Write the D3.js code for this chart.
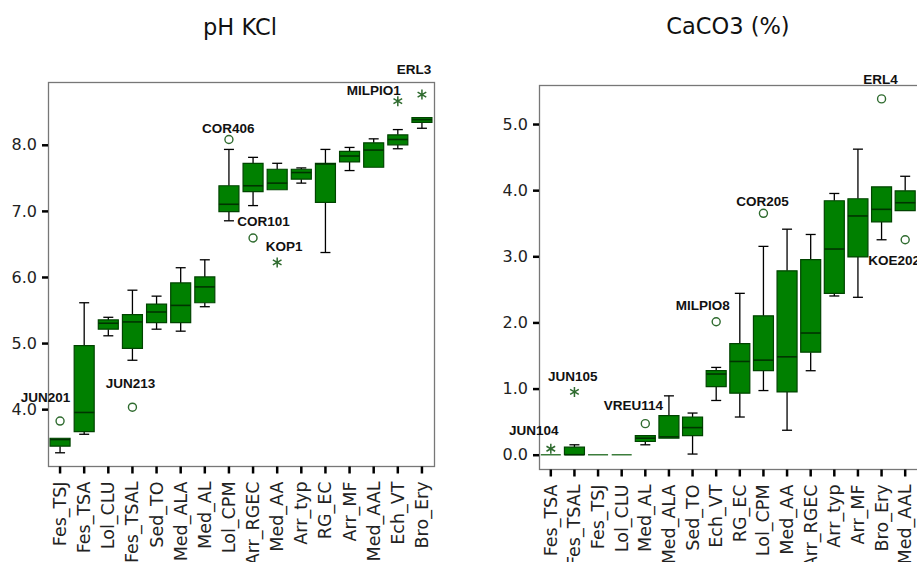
<!DOCTYPE html>
<html><head><meta charset="utf-8">
<script src="https://cdn.jsdelivr.net/npm/d3@7"></script>
<style>
html,body{margin:0;padding:0;background:#fff;overflow:hidden}
svg{display:block}
</style></head>
<body>
<svg id="chart" width="917" height="562"></svg>
<script>
// ---------- DATA ----------
// Chart 1: pH KCl
const phTitle = "pH KCl";
const phCategories = ["Fes_TSJ","Fes_TSA","Lol_CLU","Fes_TSAL","Sed_TO","Med_ALA","Med_AL","Lol_CPM","Arr_RGEC","Med_AA","Arr_typ","RG_EC","Arr_MF","Med_AAL","Ech_VT","Bro_Ery"];
const phLow    = [3.34,3.62,5.11,4.74,5.21,5.18,5.55,6.85,7.08,7.32,7.42,6.37,7.61,7.66,7.94,8.25];
const phQ1     = [3.44,3.66,5.21,4.92,5.31,5.31,5.61,6.99,7.29,7.32,7.48,7.13,7.74,7.66,8.00,8.34];
const phMedian = [3.54,3.95,5.30,5.32,5.47,5.57,5.85,7.10,7.38,7.42,7.58,7.71,7.83,7.92,8.08,8.38];
const phQ3     = [3.56,4.96,5.35,5.43,5.59,5.91,6.00,7.38,7.72,7.63,7.63,7.72,7.90,8.03,8.15,8.41];
const phHigh   = [3.56,5.61,5.39,5.80,5.71,6.14,6.26,7.93,7.81,7.72,7.65,7.93,7.96,8.09,8.23,8.41];
const phTicks  = [4.0,5.0,6.0,7.0,8.0];
const phOutlierLabels = ["JUN201","JUN213","COR406","COR101","KOP1","MILPIO1","ERL3"];
const phOutlierCats   = ["Fes_TSJ","Fes_TSAL","Lol_CPM","Arr_RGEC","Med_AA","Ech_VT","Bro_Ery"];
const phOutlierValues = [3.82,4.03,8.08,6.59,6.22,8.66,8.76];
const phOutlierKinds  = ["circle","circle","circle","circle","star","star","star"];

// Chart 2: CaCO3 (%)
const caTitle = "CaCO3 (%)";
const caCategories = ["Fes_TSA","Fes_TSAL","Fes_TSJ","Lol_CLU","Med_AL","Med_ALA","Sed_TO","Ech_VT","RG_EC","Lol_CPM","Med_AA","Arr_RGEC","Arr_typ","Arr_MF","Bro_Ery","Med_AAL"];
const caLow    = [0,0,0,0,0.15,0.25,0.01,0.82,0.57,0.97,0.37,1.27,2.40,2.38,3.25,3.69];
const caQ1     = [0,0,0,0,0.20,0.25,0.29,1.03,0.93,1.27,0.95,1.55,2.44,2.99,3.52,3.69];
const caMedian = [0,0,0,0,0.25,0.27,0.41,1.22,1.41,1.43,1.48,1.84,3.11,3.61,3.71,3.81];
const caQ3     = [0,0.115,0,0,0.29,0.59,0.57,1.27,1.68,2.10,2.78,2.95,3.84,3.87,4.05,3.99];
const caHigh   = [0,0.15,0,0,0.29,0.89,0.63,1.32,2.44,3.15,3.41,3.33,3.95,4.62,4.05,4.21];
const caTicks  = [0.0,1.0,2.0,3.0,4.0,5.0];
const caOutlierLabels = ["JUN104","JUN105","VREU114","MILPIO8","COR205","ERL4","KOE202"];
const caOutlierCats   = ["Fes_TSA","Fes_TSAL","Med_AL","Ech_VT","Lol_CPM","Bro_Ery","Med_AAL"];
const caOutlierValues = [0.09,0.95,0.47,2.01,3.65,5.38,3.25];
const caOutlierKinds  = ["star","star","circle","circle","circle","circle","circle"];

// ---------- LAYOUT (not data) ----------
const labelOffsets = {
  JUN201:[-14.5,-19], JUN213:[-2,-19.6], COR406:[-0.7,-6.7], COR101:[10.5,-12.3],
  KOP1:[7,-11.7], MILPIO1:[-24,-6], ERL3:[-8,-21],
  JUN104:[-17,-13.6], JUN105:[-1.7,-11.3], VREU114:[-12,-13.3], MILPIO8:[-13.5,-11.7],
  COR205:[-1,-7.3], ERL4:[-1,-14.4], KOE202:[-11,25]
};

const svg = d3.select("#chart");
const GREEN = "#008000", BOXSTROKE = "#004400", OUT = "#2f6b2f";

function drawChart(cfg) {
  const {title, titleX, cats, low, q1, med, q3, high, ticks, oLabels, oCats, oVals, oKinds,
         left, right, top, bottom, frameRight, domain} = cfg;
  const g = svg.append("g");
  const x = d3.scaleBand().domain(cats).range([left, right]);
  const y = d3.scaleLinear().domain(domain).range([bottom, top]);
  const bw = 20, cap = 10;

  // frame
  g.append("rect").attr("x", left+0.5).attr("y", top+0.5)
    .attr("width", frameRight-left).attr("height", bottom-top)
    .attr("fill","none").attr("stroke","#777").attr("stroke-width",1.3);

  // title
  svg.append("text").attr("x", titleX).attr("y", cfg.titleY)
    .attr("text-anchor","middle").attr("font-family","DejaVu Sans, Verdana, sans-serif")
    .attr("font-size", 22.5).attr("fill","#111").text(title);

  // y axis
  const ya = d3.axisLeft(y).tickValues(ticks).tickFormat(d3.format(".1f")).tickSize(6).tickPadding(5);
  const yg = g.append("g").attr("transform",`translate(${left},0)`).call(ya);
  yg.select(".domain").remove();
  yg.selectAll(".tick line").attr("stroke","#000").attr("stroke-width",2.5);
  yg.selectAll(".tick text").attr("font-family","DejaVu Sans, Verdana, sans-serif")
    .attr("font-size",16).attr("fill","#222");

  // x axis
  const xa = d3.axisBottom(x).tickSize(7).tickPadding(0);
  const xg = g.append("g").attr("transform",`translate(0,${bottom+0.5})`).call(xa);
  xg.select(".domain").remove();
  xg.selectAll(".tick line").attr("stroke","#000").attr("stroke-width",2.5);
  xg.selectAll(".tick text")
    .attr("font-family","DejaVu Sans, Verdana, sans-serif").attr("font-size",17.5).attr("fill","#222")
    .attr("text-anchor","end").attr("dy",null)
    .attr("transform","translate(0,15) rotate(-90)")
    .attr("x",0).attr("y",0).attr("dominant-baseline","central");

  // boxes
  cats.forEach((c,i) => {
    const cx = x(c) + x.bandwidth()/2;
    const x0 = cx - bw/2, x1 = cx + bw/2;
    const wg = g.append("g");
    if (high[i] > q3[i]) {
      wg.append("line").attr("x1",cx).attr("x2",cx).attr("y1",y(q3[i])).attr("y2",y(high[i]))
        .attr("stroke","#000").attr("stroke-width",1.3);
      wg.append("line").attr("x1",cx-cap/2).attr("x2",cx+cap/2).attr("y1",y(high[i])).attr("y2",y(high[i]))
        .attr("stroke","#000").attr("stroke-width",1.3);
    }
    if (low[i] < q1[i]) {
      wg.append("line").attr("x1",cx).attr("x2",cx).attr("y1",y(q1[i])).attr("y2",y(low[i]))
        .attr("stroke","#000").attr("stroke-width",1.3);
      wg.append("line").attr("x1",cx-cap/2).attr("x2",cx+cap/2).attr("y1",y(low[i])).attr("y2",y(low[i]))
        .attr("stroke","#000").attr("stroke-width",1.3);
    }
    const yt = y(q3[i]), yb = y(q1[i]);
    const flat = q3[i] === q1[i];
    wg.append("path")
      .attr("d",`M${x0},${yt}H${x1}V${yb}H${x0}Z`)
      .attr("fill",GREEN).attr("stroke", flat ? "#3c7d3c" : BOXSTROKE)
      .attr("stroke-width", flat ? 1.5 : 1.2);
    if (!flat) {
      wg.append("line").attr("x1",x0).attr("x2",x1).attr("y1",y(med[i])).attr("y2",y(med[i]))
        .attr("stroke","#003300").attr("stroke-width",1.6);
    }
  });

  // outliers
  oLabels.forEach((lab,i) => {
    const cx = x(oCats[i]) + x.bandwidth()/2;
    const cy = y(oVals[i]);
    if (oKinds[i] === "circle") {
      g.append("circle").attr("cx",cx).attr("cy",cy).attr("r",4)
        .attr("fill","#fff").attr("stroke",OUT).attr("stroke-width",1.4);
    } else {
      g.append("path").attr("transform",`translate(${cx},${cy})`)
        .attr("d", d3.symbol().type(d3.symbolAsterisk).size(70)())
        .attr("fill","none").attr("stroke",OUT).attr("stroke-width",1.5);
    }
    const off = labelOffsets[lab] || [0,-10];
    g.append("text").attr("x",cx+off[0]).attr("y",cy+off[1])
      .attr("text-anchor","middle").attr("font-family","Liberation Sans, Arial, sans-serif")
      .attr("font-weight","bold").attr("font-size",13.5).attr("fill","#111").text(lab);
  });
}

drawChart({title: phTitle, titleX: 240, titleY: 35,
  cats: phCategories, low: phLow, q1: phQ1, med: phMedian, q3: phQ3, high: phHigh,
  ticks: phTicks, oLabels: phOutlierLabels, oCats: phOutlierCats, oVals: phOutlierValues, oKinds: phOutlierKinds,
  left: 48, right: 434, frameRight: 434, top: 82, bottom: 466, domain: [3.14, 8.95]});

drawChart({title: caTitle, titleX: 728, titleY: 34,
  cats: caCategories, low: caLow, q1: caQ1, med: caMedian, q3: caQ3, high: caHigh,
  ticks: caTicks, oLabels: caOutlierLabels, oCats: caOutlierCats, oVals: caOutlierValues, oKinds: caOutlierKinds,
  left: 539, right: 917, frameRight: 921, top: 85, bottom: 469, domain: [-0.216, 5.59]});
</script>
</body></html>
